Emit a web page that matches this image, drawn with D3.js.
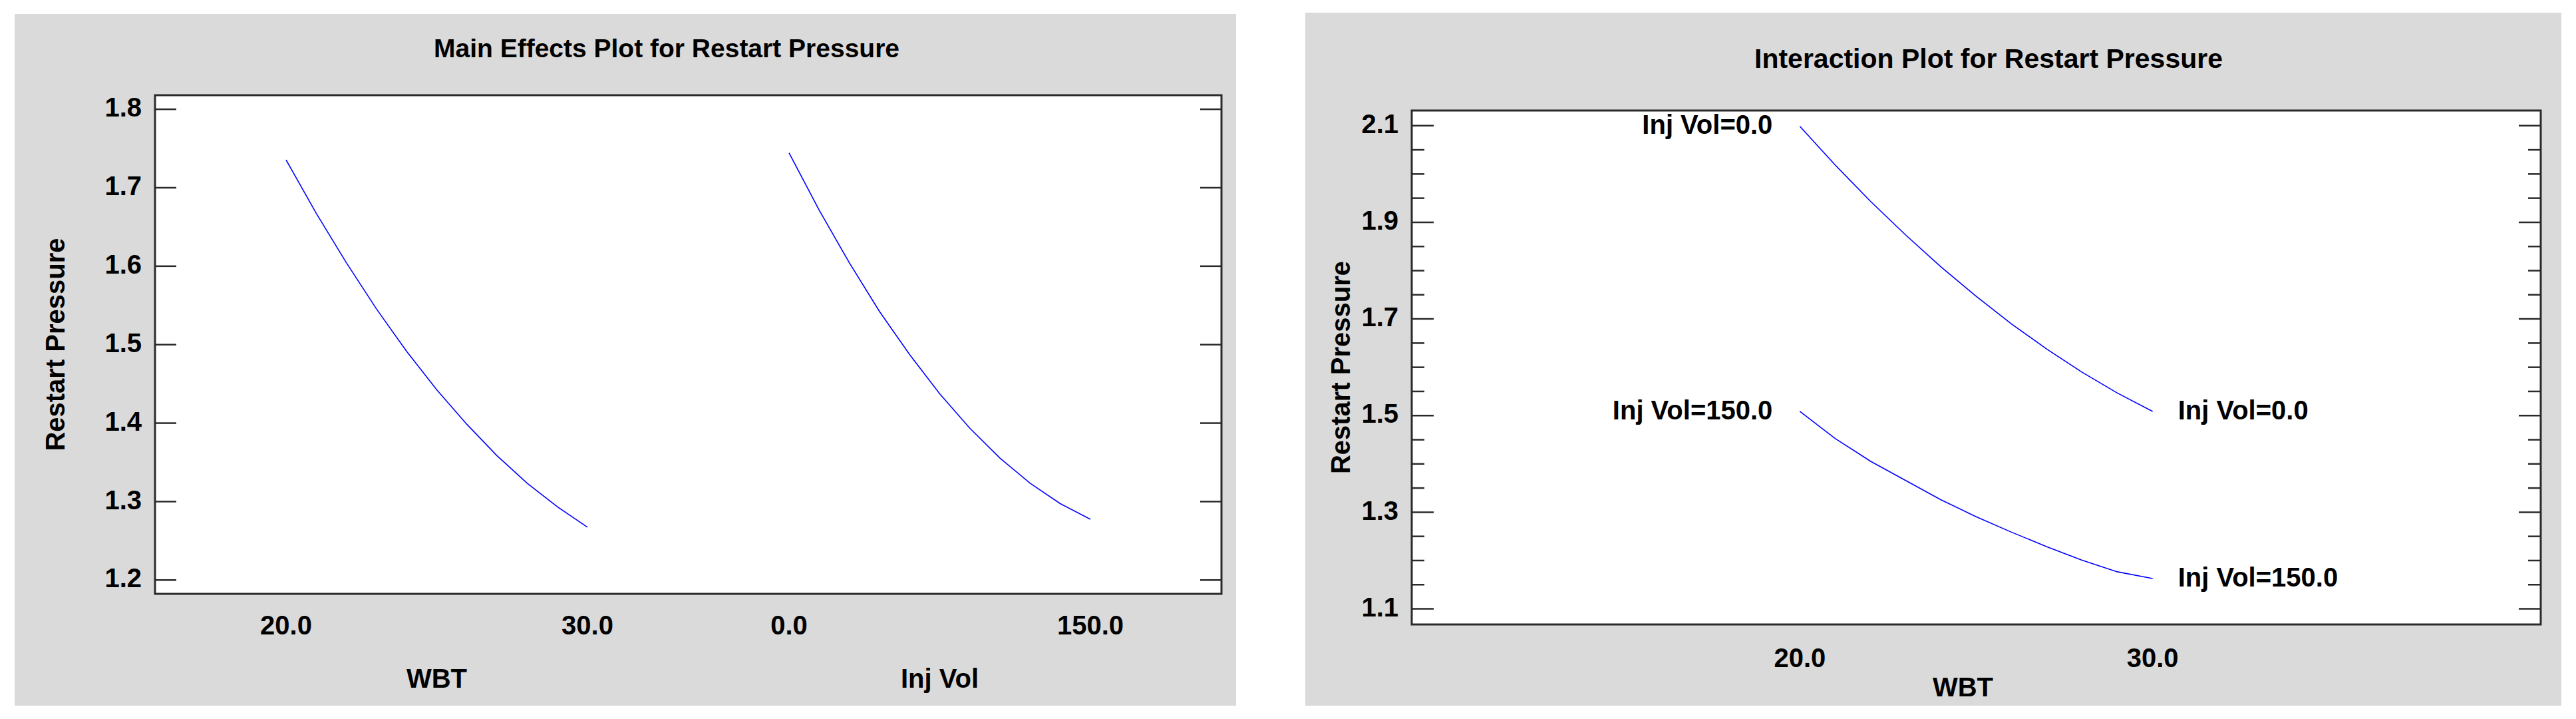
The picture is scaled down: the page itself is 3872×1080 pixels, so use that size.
<!DOCTYPE html>
<html><head><meta charset="utf-8">
<script src="https://cdn.jsdelivr.net/npm/d3@7"></script>
<style>
html,body{margin:0;padding:0;background:#fff;}
svg{display:block;}
text{font-family:"Liberation Sans",Arial,sans-serif;font-weight:bold;fill:#000;}
</style></head>
<body>
<script>
// ---------- data ----------
const mainTitle = "Main Effects Plot for Restart Pressure";
const interTitle = "Interaction Plot for Restart Pressure";
const yAxisTitle = "Restart Pressure";
const factorNames = ["WBT", "Inj Vol"];
const wbtLevels = [20, 21, 22, 23, 24, 25, 26, 27, 28, 29, 30];
const wbtMain = [1.735, 1.667, 1.604, 1.545, 1.491, 1.442, 1.398, 1.358, 1.323, 1.293, 1.267];
const injLevels = [0, 15, 30, 45, 60, 75, 90, 105, 120, 135, 150];
const injMain = [1.744, 1.671, 1.604, 1.542, 1.487, 1.437, 1.393, 1.355, 1.323, 1.297, 1.277];
const interWbt = [20, 21, 22, 23, 24, 25, 26, 27, 28, 29, 30];
const interInj0 = [2.098, 2.018, 1.943, 1.873, 1.807, 1.746, 1.689, 1.637, 1.589, 1.546, 1.508];
const interInj150 = [1.508, 1.452, 1.405, 1.365, 1.325, 1.290, 1.258, 1.228, 1.200, 1.176, 1.162];
const interSeriesLabels = ["Inj Vol=0.0", "Inj Vol=150.0"];
const mainYTicks = [1.2, 1.3, 1.4, 1.5, 1.6, 1.7, 1.8];
const mainXTickLabels = ["20.0", "30.0", "0.0", "150.0"];
const interYTicks = [1.1, 1.3, 1.5, 1.7, 1.9, 2.1];
const interYMinor = [1.15, 1.2, 1.25, 1.35, 1.4, 1.45, 1.55, 1.6, 1.65, 1.75, 1.8, 1.85, 1.95, 2.0, 2.05];
const interXTicks = [20, 30];

// ---------- layout ----------
const W = 3872, H = 1080;
const svg = d3.select("body").append("svg").attr("width", W).attr("height", H);
const gray = "#dadada", frameCol = "#2a2a2a", lineCol = "#0000ff";
const FS = 40;

function frame(g, x0, y0, x1, y1) {
  g.append("rect").attr("x", x0).attr("y", y0).attr("width", x1 - x0).attr("height", y1 - y0)
    .attr("fill", "#fff").attr("stroke", frameCol).attr("stroke-width", 3);
}
function styleAxis(sel) {
  sel.select(".domain").remove();
  sel.selectAll(".tick line").attr("stroke", frameCol).attr("stroke-width", 2.5);
  sel.selectAll(".tick text").style("font-size", FS + "px").attr("fill", "#000").attr("dy", "0.28em");
}

// ================= LEFT: Main effects =================
const L = {px: 22, py: 21, pw: 1836, ph: 1039, x0: 233, y0: 143, x1: 1836, y1: 892};
svg.append("rect").attr("x", L.px).attr("y", L.py).attr("width", L.pw).attr("height", L.ph).attr("fill", gray);
const gL = svg.append("g");
frame(gL, L.x0, L.y0, L.x1, L.y1);

const yL = d3.scaleLinear().domain([1.182, 1.8175]).range([L.y1, L.y0]);
// composite factor axis: each factor occupies a unit segment
const margin = 0.435, gap = 0.669;
const uScale = d3.scaleLinear().domain([-margin, 2 + gap + margin]).range([L.x0, L.x1]);
const fWbt = d3.scaleLinear().domain([wbtLevels[0], wbtLevels[wbtLevels.length - 1]]).range([uScale(0), uScale(1)]);
const fInj = d3.scaleLinear().domain([injLevels[0], injLevels[injLevels.length - 1]]).range([uScale(1 + gap), uScale(2 + gap)]);

const axL = gL.append("g").attr("transform", `translate(${L.x0},0)`)
  .call(d3.axisLeft(yL).tickValues(mainYTicks).tickSize(-32).tickPadding(20).tickFormat(d3.format(".1f")));
styleAxis(axL);
const axLR = gL.append("g").attr("transform", `translate(${L.x1},0)`)
  .call(d3.axisRight(yL).tickValues(mainYTicks).tickSize(-32).tickFormat(""));
styleAxis(axLR);

const line = (xs, ys, fx, fy) => d3.line().x((d, i) => fx(xs[i])).y(d => fy(d))(ys);
gL.append("path").attr("d", line(wbtLevels, wbtMain, fWbt, yL))
  .attr("fill", "none").attr("stroke", lineCol).attr("stroke-width", 1.6);
gL.append("path").attr("d", line(injLevels, injMain, fInj, yL))
  .attr("fill", "none").attr("stroke", lineCol).attr("stroke-width", 1.6);

const xTickPos = [fWbt(wbtLevels[0]), fWbt(wbtLevels[wbtLevels.length - 1]), fInj(injLevels[0]), fInj(injLevels[injLevels.length - 1])];
gL.selectAll("text.xt").data(mainXTickLabels).join("text").attr("class", "xt")
  .attr("x", (d, i) => xTickPos[i]).attr("y", 953).attr("text-anchor", "middle").style("font-size", FS + "px").text(d => d);
gL.selectAll("text.xf").data(factorNames).join("text").attr("class", "xf")
  .attr("x", (d, i) => i === 0 ? (fWbt.range()[0] + fWbt.range()[1]) / 2 : (fInj.range()[0] + fInj.range()[1]) / 2)
  .attr("y", 1033).attr("text-anchor", "middle").style("font-size", FS + "px").text(d => d);
gL.append("text").attr("x", 1002).attr("y", 86).attr("text-anchor", "middle").style("font-size", "39px").text(mainTitle);
gL.append("text").attr("transform", `translate(97,${(L.y0 + L.y1) / 2}) rotate(-90)`)
  .attr("text-anchor", "middle").style("font-size", FS + "px").text(yAxisTitle);

// ================= RIGHT: Interaction =================
const R = {px: 1962, py: 19, pw: 1888, ph: 1041, x0: 2122, y0: 166, x1: 3819, y1: 938};
svg.append("rect").attr("x", R.px).attr("y", R.py).attr("width", R.pw).attr("height", R.ph).attr("fill", gray);
const gR = svg.append("g");
frame(gR, R.x0, R.y0, R.x1, R.y1);

const yR = d3.scaleLinear().domain([1.067, 2.1307]).range([R.y1, R.y0]);
const xR = d3.scaleLinear().domain([9, 41]).range([R.x0, R.x1]);

const axR = gR.append("g").attr("transform", `translate(${R.x0},0)`)
  .call(d3.axisLeft(yR).tickValues(interYTicks).tickSize(-33).tickPadding(20).tickFormat(d3.format(".1f")));
styleAxis(axR);
const axRm = gR.append("g").attr("transform", `translate(${R.x0},0)`)
  .call(d3.axisLeft(yR).tickValues(interYMinor).tickSize(-19).tickFormat(""));
styleAxis(axRm);
const axRR = gR.append("g").attr("transform", `translate(${R.x1},0)`)
  .call(d3.axisRight(yR).tickValues(interYTicks).tickSize(-33).tickFormat(""));
styleAxis(axRR);
const axRRm = gR.append("g").attr("transform", `translate(${R.x1},0)`)
  .call(d3.axisRight(yR).tickValues(interYMinor).tickSize(-19).tickFormat(""));
styleAxis(axRRm);

const series = [interInj0, interInj150];
series.forEach((s, k) => {
  gR.append("path").attr("d", line(interWbt, s, xR, yR))
    .attr("fill", "none").attr("stroke", lineCol).attr("stroke-width", 1.6);
  const xs = xR(interWbt[0]), ys = yR(s[0]);
  const xe = xR(interWbt[interWbt.length - 1]), ye = yR(s[s.length - 1]);
  gR.append("text").attr("x", xs - 41).attr("y", ys).attr("dy", "0.29em").attr("text-anchor", "end")
    .style("font-size", FS + "px").text(interSeriesLabels[k]);
  gR.append("text").attr("x", xe + 38).attr("y", ye).attr("dy", "0.29em").attr("text-anchor", "start")
    .style("font-size", FS + "px").text(interSeriesLabels[k]);
});

gR.selectAll("text.xt").data(interXTicks).join("text").attr("class", "xt")
  .attr("x", d => xR(d)).attr("y", 1002).attr("text-anchor", "middle").style("font-size", FS + "px")
  .text(d => d3.format(".1f")(d));
gR.append("text").attr("x", (xR(interXTicks[0]) + xR(interXTicks[1])) / 2 - 20).attr("y", 1046)
  .attr("text-anchor", "middle").style("font-size", FS + "px").text(factorNames[0]);
gR.append("text").attr("x", 2989).attr("y", 102).attr("text-anchor", "middle").style("font-size", "41px").text(interTitle);
gR.append("text").attr("transform", `translate(2029,${(R.y0 + R.y1) / 2}) rotate(-90)`)
  .attr("text-anchor", "middle").style("font-size", FS + "px").text(yAxisTitle);
</script>
</body></html>
